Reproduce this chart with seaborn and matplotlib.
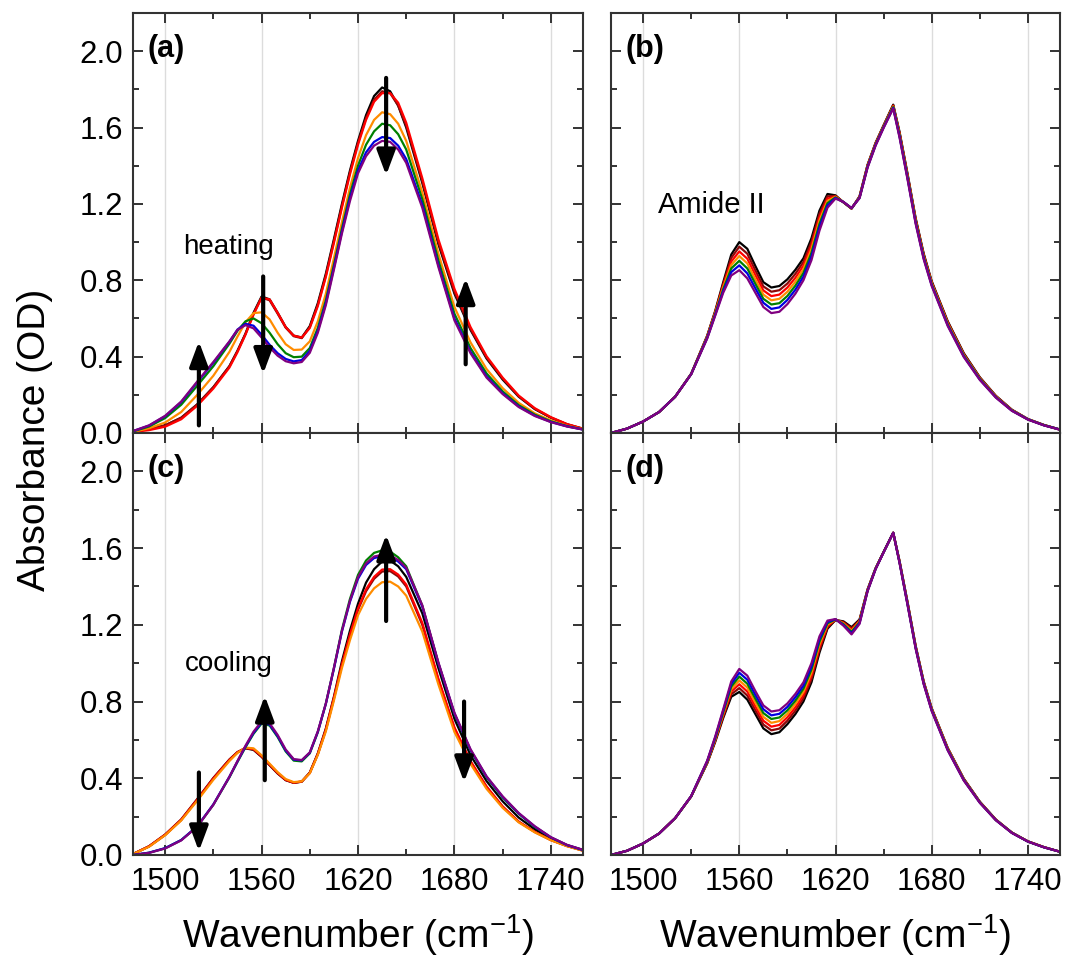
import numpy as np
import pandas as pd
import matplotlib
matplotlib.use("Agg")
import matplotlib.pyplot as plt
from matplotlib.ticker import MultipleLocator, FormatStrFormatter
import seaborn as sns

# wavenumber grids (cm-1)
wn_ac = [1480, 1490, 1500, 1510, 1520, 1530, 1540, 1545, 1550, 1555, 1560, 1565,
         1570, 1575, 1580, 1585, 1590, 1595, 1600, 1605, 1610, 1615, 1620, 1625,
         1630, 1635, 1640, 1645, 1650, 1660, 1670, 1680, 1690, 1700, 1710, 1720,
         1730, 1740, 1750, 1760]
wn_bd = [1480, 1490, 1500, 1510, 1520, 1530, 1540, 1545, 1550, 1555, 1560, 1565,
         1570, 1575, 1580, 1585, 1590, 1595, 1600, 1605, 1610, 1615, 1620, 1625,
         1630, 1635, 1640, 1645, 1650, 1656, 1660, 1665, 1670, 1675, 1680, 1690,
         1700, 1710, 1720, 1730, 1740, 1750, 1760]

series_names = ["black", "brown", "red", "orange", "green", "blue", "purple"]
series_colors = ["#000000", "#8b0a0a", "#ff0000", "#ff8c00", "#008000", "#0000e0", "#800080"]

# (a) heating
a_black = [0.010, 0.020, 0.040, 0.080, 0.150, 0.240, 0.350, 0.430, 0.520, 0.630, 0.715, 0.700, 0.630, 0.555, 0.510, 0.500, 0.560, 0.680, 0.835, 1.015, 1.200, 1.375, 1.530, 1.665, 1.765, 1.810, 1.790, 1.715, 1.600, 1.310, 0.990, 0.730, 0.540, 0.390, 0.280, 0.190, 0.125, 0.080, 0.045, 0.022]
a_brown = [0.010, 0.020, 0.040, 0.080, 0.150, 0.240, 0.350, 0.430, 0.520, 0.625, 0.710, 0.695, 0.625, 0.552, 0.507, 0.497, 0.555, 0.672, 0.825, 1.005, 1.190, 1.365, 1.520, 1.650, 1.745, 1.790, 1.780, 1.715, 1.610, 1.320, 1.000, 0.740, 0.545, 0.395, 0.285, 0.192, 0.127, 0.081, 0.046, 0.022]
a_red = [0.005, 0.015, 0.033, 0.072, 0.143, 0.233, 0.343, 0.423, 0.515, 0.620, 0.708, 0.700, 0.630, 0.555, 0.510, 0.500, 0.550, 0.665, 0.818, 0.995, 1.180, 1.355, 1.510, 1.640, 1.735, 1.780, 1.780, 1.730, 1.625, 1.335, 1.015, 0.755, 0.555, 0.402, 0.290, 0.196, 0.130, 0.083, 0.047, 0.023]
a_orange = [0.006, 0.025, 0.055, 0.110, 0.200, 0.300, 0.425, 0.505, 0.580, 0.628, 0.632, 0.595, 0.525, 0.465, 0.435, 0.437, 0.480, 0.585, 0.730, 0.915, 1.105, 1.285, 1.440, 1.560, 1.640, 1.680, 1.670, 1.620, 1.530, 1.260, 0.940, 0.660, 0.475, 0.335, 0.235, 0.158, 0.103, 0.066, 0.038, 0.020]
a_green = [0.008, 0.034, 0.078, 0.148, 0.248, 0.350, 0.468, 0.535, 0.585, 0.600, 0.575, 0.525, 0.465, 0.418, 0.397, 0.400, 0.445, 0.550, 0.695, 0.880, 1.070, 1.250, 1.400, 1.510, 1.580, 1.620, 1.612, 1.565, 1.485, 1.225, 0.905, 0.625, 0.445, 0.312, 0.218, 0.146, 0.096, 0.061, 0.036, 0.019]
a_blue = [0.010, 0.039, 0.088, 0.162, 0.266, 0.368, 0.478, 0.542, 0.572, 0.562, 0.515, 0.462, 0.418, 0.388, 0.375, 0.382, 0.430, 0.535, 0.680, 0.865, 1.055, 1.230, 1.375, 1.470, 1.525, 1.550, 1.545, 1.505, 1.435, 1.195, 0.880, 0.600, 0.425, 0.296, 0.208, 0.139, 0.091, 0.058, 0.035, 0.018]
a_purple = [0.010, 0.040, 0.090, 0.165, 0.270, 0.372, 0.480, 0.540, 0.565, 0.548, 0.500, 0.448, 0.405, 0.376, 0.365, 0.372, 0.420, 0.525, 0.670, 0.855, 1.045, 1.215, 1.360, 1.450, 1.505, 1.530, 1.525, 1.485, 1.415, 1.180, 0.870, 0.590, 0.418, 0.290, 0.204, 0.136, 0.089, 0.057, 0.034, 0.018]

# (c) cooling
c_black = [0.005, 0.045, 0.105, 0.183, 0.290, 0.400, 0.497, 0.535, 0.556, 0.548, 0.512, 0.468, 0.425, 0.390, 0.376, 0.382, 0.430, 0.530, 0.660, 0.825, 1.010, 1.170, 1.310, 1.420, 1.490, 1.530, 1.535, 1.505, 1.450, 1.260, 0.975, 0.710, 0.520, 0.385, 0.280, 0.195, 0.134, 0.085, 0.050, 0.025]
c_brown = [0.005, 0.046, 0.107, 0.186, 0.292, 0.402, 0.498, 0.537, 0.558, 0.550, 0.513, 0.469, 0.426, 0.391, 0.377, 0.383, 0.428, 0.525, 0.652, 0.815, 0.990, 1.145, 1.278, 1.375, 1.440, 1.478, 1.480, 1.452, 1.400, 1.200, 0.912, 0.660, 0.487, 0.355, 0.252, 0.173, 0.120, 0.078, 0.047, 0.023]
c_red = [0.005, 0.045, 0.105, 0.183, 0.288, 0.398, 0.495, 0.535, 0.558, 0.552, 0.516, 0.472, 0.428, 0.392, 0.377, 0.383, 0.428, 0.527, 0.655, 0.820, 0.995, 1.150, 1.285, 1.385, 1.450, 1.488, 1.490, 1.462, 1.410, 1.210, 0.920, 0.665, 0.490, 0.357, 0.253, 0.174, 0.121, 0.078, 0.047, 0.023]
c_orange = [0.005, 0.043, 0.103, 0.180, 0.283, 0.392, 0.490, 0.532, 0.560, 0.556, 0.520, 0.476, 0.432, 0.396, 0.380, 0.384, 0.426, 0.522, 0.645, 0.805, 0.975, 1.120, 1.250, 1.335, 1.390, 1.422, 1.425, 1.400, 1.352, 1.165, 0.890, 0.642, 0.475, 0.345, 0.246, 0.170, 0.118, 0.077, 0.046, 0.022]
c_green = [0.000, 0.012, 0.035, 0.078, 0.148, 0.262, 0.405, 0.485, 0.562, 0.632, 0.685, 0.675, 0.615, 0.540, 0.492, 0.488, 0.530, 0.640, 0.790, 0.975, 1.175, 1.335, 1.460, 1.535, 1.575, 1.588, 1.582, 1.552, 1.505, 1.300, 1.000, 0.735, 0.545, 0.405, 0.300, 0.215, 0.146, 0.091, 0.052, 0.026]
c_blue = [0.000, 0.012, 0.036, 0.078, 0.150, 0.264, 0.408, 0.488, 0.566, 0.637, 0.690, 0.680, 0.620, 0.545, 0.497, 0.493, 0.533, 0.642, 0.788, 0.970, 1.165, 1.320, 1.440, 1.512, 1.548, 1.558, 1.555, 1.530, 1.490, 1.295, 1.000, 0.738, 0.548, 0.408, 0.303, 0.217, 0.148, 0.092, 0.052, 0.026]
c_purple = [0.000, 0.011, 0.034, 0.076, 0.148, 0.262, 0.408, 0.490, 0.570, 0.643, 0.697, 0.687, 0.626, 0.550, 0.500, 0.495, 0.535, 0.645, 0.790, 0.975, 1.168, 1.325, 1.448, 1.520, 1.556, 1.565, 1.562, 1.538, 1.497, 1.302, 1.005, 0.742, 0.552, 0.410, 0.306, 0.219, 0.150, 0.093, 0.053, 0.027]

# (b) Amide II, heating
b_black = [0.000, 0.023, 0.060, 0.110, 0.190, 0.310, 0.510, 0.640, 0.790, 0.935, 1.000, 0.965, 0.875, 0.790, 0.762, 0.770, 0.805, 0.855, 0.915, 1.020, 1.165, 1.252, 1.245, 1.208, 1.175, 1.240, 1.405, 1.520, 1.612, 1.720, 1.575, 1.355, 1.125, 0.940, 0.795, 0.585, 0.418, 0.292, 0.195, 0.122, 0.073, 0.042, 0.018]
b_brown = [0.000, 0.023, 0.060, 0.110, 0.190, 0.310, 0.508, 0.636, 0.781, 0.917, 0.976, 0.939, 0.852, 0.768, 0.740, 0.748, 0.783, 0.834, 0.896, 1.001, 1.148, 1.240, 1.242, 1.208, 1.176, 1.238, 1.403, 1.518, 1.610, 1.717, 1.570, 1.350, 1.120, 0.935, 0.791, 0.581, 0.415, 0.290, 0.193, 0.121, 0.073, 0.042, 0.018]
b_red = [0.000, 0.023, 0.060, 0.110, 0.190, 0.309, 0.505, 0.632, 0.772, 0.898, 0.951, 0.913, 0.828, 0.747, 0.717, 0.725, 0.762, 0.813, 0.877, 0.982, 1.130, 1.228, 1.239, 1.209, 1.176, 1.237, 1.400, 1.515, 1.607, 1.713, 1.565, 1.345, 1.115, 0.930, 0.787, 0.577, 0.411, 0.287, 0.192, 0.120, 0.072, 0.041, 0.018]
b_orange = [0.000, 0.023, 0.060, 0.110, 0.190, 0.309, 0.503, 0.628, 0.763, 0.880, 0.927, 0.888, 0.805, 0.725, 0.695, 0.703, 0.740, 0.793, 0.858, 0.963, 1.113, 1.216, 1.237, 1.209, 1.177, 1.235, 1.398, 1.513, 1.605, 1.710, 1.560, 1.340, 1.110, 0.925, 0.783, 0.573, 0.408, 0.285, 0.190, 0.119, 0.072, 0.041, 0.018]
b_green = [0.000, 0.023, 0.060, 0.110, 0.190, 0.309, 0.500, 0.623, 0.753, 0.862, 0.902, 0.862, 0.782, 0.703, 0.673, 0.680, 0.718, 0.772, 0.838, 0.943, 1.095, 1.204, 1.234, 1.209, 1.177, 1.233, 1.395, 1.510, 1.603, 1.707, 1.555, 1.335, 1.105, 0.920, 0.778, 0.568, 0.405, 0.283, 0.188, 0.118, 0.071, 0.041, 0.018]
b_blue = [0.000, 0.023, 0.060, 0.110, 0.190, 0.308, 0.498, 0.619, 0.744, 0.843, 0.878, 0.836, 0.758, 0.682, 0.650, 0.658, 0.697, 0.751, 0.819, 0.924, 1.078, 1.192, 1.231, 1.210, 1.178, 1.232, 1.393, 1.508, 1.600, 1.703, 1.550, 1.330, 1.100, 0.915, 0.774, 0.564, 0.401, 0.280, 0.187, 0.117, 0.071, 0.040, 0.018]
b_purple = [0.000, 0.023, 0.060, 0.110, 0.190, 0.308, 0.495, 0.615, 0.735, 0.825, 0.853, 0.810, 0.735, 0.660, 0.628, 0.635, 0.675, 0.730, 0.800, 0.905, 1.060, 1.180, 1.228, 1.210, 1.178, 1.230, 1.390, 1.505, 1.598, 1.700, 1.545, 1.325, 1.095, 0.910, 0.770, 0.560, 0.398, 0.278, 0.185, 0.116, 0.070, 0.040, 0.017]

# (d) Amide II, cooling
d_black = [0.000, 0.022, 0.060, 0.112, 0.192, 0.305, 0.478, 0.590, 0.715, 0.825, 0.850, 0.810, 0.735, 0.660, 0.630, 0.640, 0.682, 0.735, 0.800, 0.900, 1.055, 1.180, 1.225, 1.218, 1.188, 1.228, 1.385, 1.495, 1.580, 1.680, 1.530, 1.315, 1.090, 0.905, 0.765, 0.558, 0.398, 0.278, 0.185, 0.117, 0.071, 0.041, 0.017]
d_brown = [0.000, 0.022, 0.060, 0.112, 0.192, 0.305, 0.480, 0.595, 0.723, 0.838, 0.870, 0.831, 0.755, 0.680, 0.650, 0.659, 0.700, 0.753, 0.817, 0.917, 1.069, 1.187, 1.226, 1.214, 1.182, 1.224, 1.383, 1.494, 1.580, 1.680, 1.528, 1.313, 1.088, 0.903, 0.763, 0.556, 0.396, 0.277, 0.184, 0.117, 0.071, 0.041, 0.017]
d_red = [0.000, 0.022, 0.060, 0.112, 0.192, 0.306, 0.483, 0.599, 0.730, 0.852, 0.890, 0.852, 0.775, 0.700, 0.669, 0.678, 0.718, 0.770, 0.833, 0.933, 1.083, 1.194, 1.227, 1.210, 1.175, 1.220, 1.382, 1.493, 1.579, 1.680, 1.527, 1.310, 1.085, 0.900, 0.760, 0.554, 0.395, 0.276, 0.184, 0.116, 0.071, 0.041, 0.017]
d_orange = [0.000, 0.022, 0.060, 0.112, 0.192, 0.306, 0.485, 0.604, 0.738, 0.865, 0.910, 0.873, 0.795, 0.720, 0.689, 0.698, 0.736, 0.788, 0.850, 0.950, 1.098, 1.201, 1.228, 1.207, 1.169, 1.217, 1.380, 1.493, 1.579, 1.680, 1.525, 1.308, 1.083, 0.898, 0.758, 0.552, 0.393, 0.275, 0.183, 0.116, 0.071, 0.041, 0.017]
d_green = [0.000, 0.022, 0.060, 0.112, 0.192, 0.306, 0.487, 0.609, 0.745, 0.878, 0.930, 0.893, 0.815, 0.740, 0.709, 0.717, 0.754, 0.805, 0.867, 0.967, 1.112, 1.208, 1.228, 1.203, 1.163, 1.213, 1.378, 1.492, 1.579, 1.680, 1.523, 1.305, 1.080, 0.895, 0.755, 0.549, 0.391, 0.274, 0.182, 0.116, 0.070, 0.040, 0.017]
d_blue = [0.000, 0.022, 0.060, 0.112, 0.192, 0.307, 0.490, 0.613, 0.753, 0.892, 0.950, 0.914, 0.835, 0.760, 0.728, 0.736, 0.772, 0.823, 0.883, 0.983, 1.126, 1.215, 1.229, 1.199, 1.156, 1.209, 1.377, 1.491, 1.578, 1.680, 1.522, 1.303, 1.078, 0.893, 0.753, 0.547, 0.390, 0.273, 0.182, 0.115, 0.070, 0.040, 0.017]
d_purple = [0.000, 0.022, 0.060, 0.112, 0.192, 0.307, 0.492, 0.618, 0.760, 0.905, 0.970, 0.935, 0.855, 0.780, 0.748, 0.755, 0.790, 0.840, 0.900, 1.000, 1.140, 1.222, 1.230, 1.195, 1.150, 1.205, 1.375, 1.490, 1.578, 1.680, 1.520, 1.300, 1.075, 0.890, 0.750, 0.545, 0.388, 0.272, 0.181, 0.115, 0.070, 0.040, 0.017]

# arrows: (wavenumber, tail OD, head OD)
arrows_a = [(1521, 0.04, 0.48), (1561, 0.82, 0.31), (1637.5, 1.86, 1.35), (1687, 0.36, 0.81)]
arrows_c = [(1521, 0.43, 0.02), (1562, 0.39, 0.83), (1637.5, 1.22, 1.67), (1686, 0.80, 0.38)]


def long_df(wn, arrays):
    rows = []
    for name, vals in zip(series_names, arrays):
        for x, y in zip(wn, vals):
            rows.append((name, x, y))
    return pd.DataFrame(rows, columns=["series", "wn", "od"])


sns.set_style("ticks")
plt.rcParams["font.family"] = ["Liberation Sans", "DejaVu Sans"]
plt.rcParams["mathtext.fontset"] = "custom"
plt.rcParams["mathtext.rm"] = "Liberation Sans"
plt.rcParams["mathtext.it"] = "Liberation Sans:italic"
plt.rcParams["text.color"] = "black"
plt.rcParams["axes.labelcolor"] = "black"
plt.rcParams["xtick.labelcolor"] = "black"
plt.rcParams["ytick.labelcolor"] = "black"

W, H = 1069, 961
fig = plt.figure(figsize=(W / 100, H / 100), dpi=100)


def box(l, t, r, b):
    return [l / W, 1 - b / H, (r - l) / W, (b - t) / H]


ax_a = fig.add_axes(box(133, 13, 583, 433))
ax_b = fig.add_axes(box(611, 13, 1060, 433))
ax_c = fig.add_axes(box(133, 433, 583, 855))
ax_d = fig.add_axes(box(611, 433, 1060, 855))

panels = [
    (ax_a, wn_ac, [a_black, a_brown, a_red, a_orange, a_green, a_blue, a_purple], "(a)"),
    (ax_b, wn_bd, [b_black, b_brown, b_red, b_orange, b_green, b_blue, b_purple], "(b)"),
    (ax_c, wn_ac, [c_black, c_brown, c_red, c_orange, c_green, c_blue, c_purple], "(c)"),
    (ax_d, wn_bd, [d_black, d_brown, d_red, d_orange, d_green, d_blue, d_purple], "(d)"),
]

for ax, wn, arrays, tag in panels:
    df = long_df(wn, arrays)
    sns.lineplot(data=df, x="wn", y="od", hue="series", hue_order=series_names,
                 palette=series_colors, estimator=None, errorbar=None, sort=False,
                 linewidth=1.6, legend=False, ax=ax)
    ax.set_xlim(1480, 1760)
    ax.set_ylim(0, 2.2)
    ax.set_xticks([1500, 1560, 1620, 1680, 1740])
    ax.xaxis.set_minor_locator(MultipleLocator(30))
    ax.yaxis.set_major_locator(MultipleLocator(0.4))
    ax.yaxis.set_minor_locator(MultipleLocator(0.2))
    ax.yaxis.set_major_formatter(FormatStrFormatter("%.1f"))
    ax.grid(axis="x", which="major", color="#dcdcdc", linewidth=1.0)
    ax.set_axisbelow(True)
    ax.tick_params(which="both", direction="in", top=True, right=True,
                   color="#333333", width=1.4, labelsize=22.5, pad=7,
                   labelcolor="black")
    ax.tick_params(which="major", length=7)
    ax.tick_params(which="minor", length=4.5)
    for s in ax.spines.values():
        s.set_color("#333333")
        s.set_linewidth(1.5)
    ax.set_xlabel("")
    ax.set_ylabel("")
    ax.text(0.033, 0.915, tag, transform=ax.transAxes, fontsize=22,
            fontweight="bold", ha="left", va="center")

for ax in (ax_a, ax_b):
    ax.tick_params(labelbottom=False)
for ax in (ax_b, ax_d):
    ax.tick_params(labelleft=False)
ax_c.tick_params(axis="x", pad=9)
ax_d.tick_params(axis="x", pad=9)

for ax, arrows in ((ax_a, arrows_a), (ax_c, arrows_c)):
    for x, y0, y1 in arrows:
        ax.annotate("", xy=(x, y1), xytext=(x, y0),
                    arrowprops=dict(arrowstyle="-|>,head_length=0.75,head_width=0.28",
                                    mutation_scale=20, lw=3, color="black",
                                    shrinkA=0, shrinkB=0))

ax_a.text(1511, 0.976, "heating", fontsize=20, ha="left", va="center")
ax_c.text(1512.5, 0.994, "cooling", fontsize=20, ha="left", va="center")
ax_b.text(1509.5, 1.194, "Amide II", fontsize=21, ha="left", va="center")

xlab = "Wavenumber (cm$^{-1}$)"
fig.text(358 / W, 1 - 948 / H, xlab, fontsize=28, ha="center", va="baseline")
fig.text(835 / W, 1 - 948 / H, xlab, fontsize=28, ha="center", va="baseline")
fig.text(35 / W, 1 - 440 / H, "Absorbance (OD)", fontsize=28, rotation=90,
         ha="center", va="center")

fig.savefig("out.png", dpi=100, facecolor="white")
